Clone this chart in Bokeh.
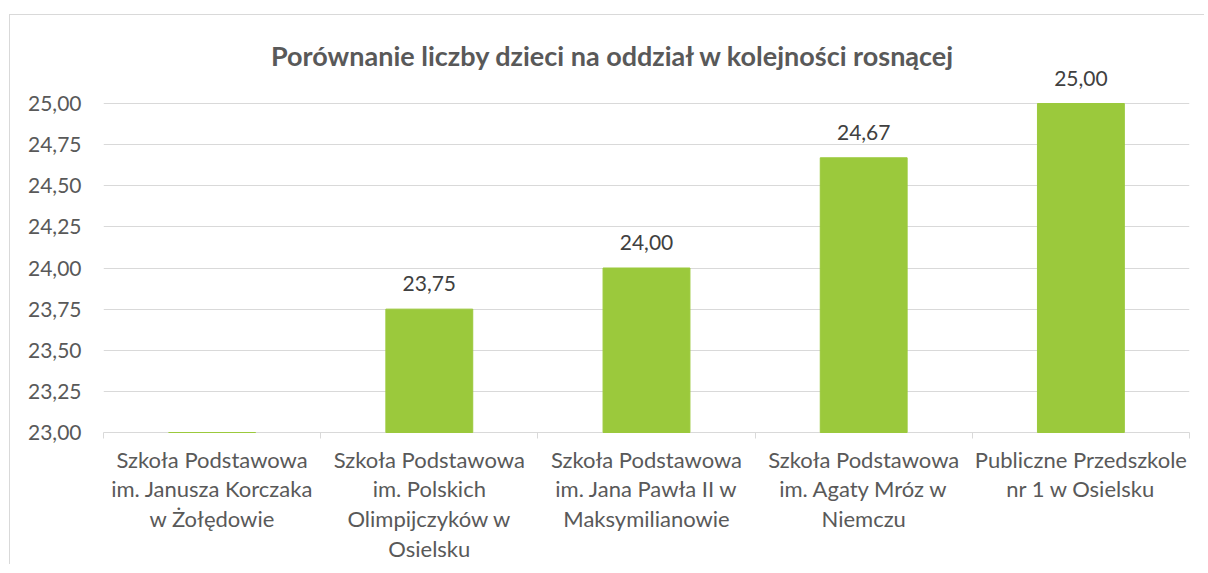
from bokeh.plotting import figure
from bokeh.models import (ColumnDataSource, LabelSet, Label, FixedTicker, Range1d,
                          CustomJSTickFormatter)
from bokeh.core.properties import value
from bokeh.embed import file_html
from bokeh.resources import INLINE

title_text = "Porównanie liczby dzieci na oddział w kolejności rosnącej"
categories = [
    "Szkoła Podstawowa\nim. Janusza Korczaka\nw Żołędowie",
    "Szkoła Podstawowa\nim. Polskich\nOlimpijczyków w\nOsielsku",
    "Szkoła Podstawowa\nim. Jana Pawła II w\nMaksymilianowie",
    "Szkoła Podstawowa\nim. Agaty Mróz w\nNiemczu",
    "Publiczne Przedszkole\nnr 1 w Osielsku",
]
values = [23.00, 23.75, 24.00, 24.67, 25.00]
y_ticks = [23.00, 23.25, 23.50, 23.75, 24.00, 24.25, 24.50, 24.75, 25.00]

GREEN = "#9BC93C"
GRID = "#d9d9d9"
TXT = "#595959"
FONT = "Lato"

# layout (pixels)
PLOT_H = 329          # height of the 23..25 span
TOP_PAD = 88          # space above the 25,00 gridline (title + labels live here)
y_min, y_max = y_ticks[0], y_ticks[-1]
px_per_unit = PLOT_H / (y_max - y_min)
y_top = y_max + TOP_PAD / px_per_unit

n = len(categories)
xs = [i + 0.5 for i in range(n)]
src = ColumnDataSource(dict(x=xs, top=values))

lab_x = [x for x, v in zip(xs, values) if v > y_min]
lab_y = [v for v in values if v > y_min]
lab_t = [f"{v:.2f}".replace(".", ",") for v in values if v > y_min]
lab_src = ColumnDataSource(dict(x=lab_x, y=lab_y, t=lab_t))

p = figure(x_range=Range1d(0, n), y_range=Range1d(y_min, y_top),
           frame_width=1086, frame_height=PLOT_H + TOP_PAD,
           min_border_left=93, min_border_right=15,
           min_border_top=0, min_border_bottom=130,
           output_backend="svg", toolbar_location=None, tools="")
p.styles = {"border-top": "1px solid #d9d9d9", "border-left": "1px solid #d9d9d9",
            "margin-top": "14px", "margin-left": "9px"}
p.outline_line_color = None
p.background_fill_color = "white"
p.border_fill_color = "white"

p.vbar(x="x", top="top", bottom=y_min, width=0.4, source=src,
       fill_color=GREEN, line_color=GREEN, line_width=1, level="overlay")

labels = LabelSet(x="x", y="y", text="t", source=lab_src, y_offset=18,
                  text_align="center", text_baseline="alphabetic",
                  text_font=value(FONT), text_font_size="21px", text_color="#404040")
p.add_layout(labels)

p.add_layout(Label(x=2.348, y=y_max + 48 / px_per_unit, text=title_text,
                   text_align="center", text_baseline="middle", text_font=FONT,
                   text_font_size="27px", text_font_style="bold", text_color=TXT))

# x axis
p.xaxis.ticker = FixedTicker(ticks=xs, minor_ticks=list(range(n + 1)))
p.xaxis.formatter = CustomJSTickFormatter(args=dict(labels=categories),
                                          code="return labels[Math.floor(tick)];")
p.xaxis.axis_line_color = GRID
p.xaxis.major_tick_line_color = None
p.xaxis.major_tick_out = 0
p.xaxis.major_tick_in = 0
p.xaxis.minor_tick_line_color = GRID
p.xaxis.minor_tick_out = 6
p.xaxis.minor_tick_in = 0
p.xaxis.major_label_standoff = 7
p.xaxis.major_label_text_font = FONT
p.xaxis.major_label_text_font_size = "22px"
p.xaxis.major_label_text_color = TXT
p.xaxis.major_label_text_line_height = 1.1
p.xgrid.visible = False

# y axis
p.yaxis.ticker = FixedTicker(ticks=y_ticks)
p.yaxis.formatter = CustomJSTickFormatter(code="return tick.toFixed(2).replace('.', ',');")
p.yaxis.axis_line_color = None
p.yaxis.major_tick_line_color = None
p.yaxis.minor_tick_line_color = None
p.yaxis.major_tick_out = 0
p.yaxis.major_tick_in = 0
p.yaxis.major_label_standoff = 22
p.yaxis.major_label_text_font = FONT
p.yaxis.major_label_text_font_size = "21px"
p.yaxis.major_label_text_color = TXT
p.ygrid.ticker = FixedTicker(ticks=y_ticks)
p.ygrid.grid_line_color = GRID
p.ygrid.grid_line_width = 1

open("out.html", "w").write(file_html(p, INLINE))
